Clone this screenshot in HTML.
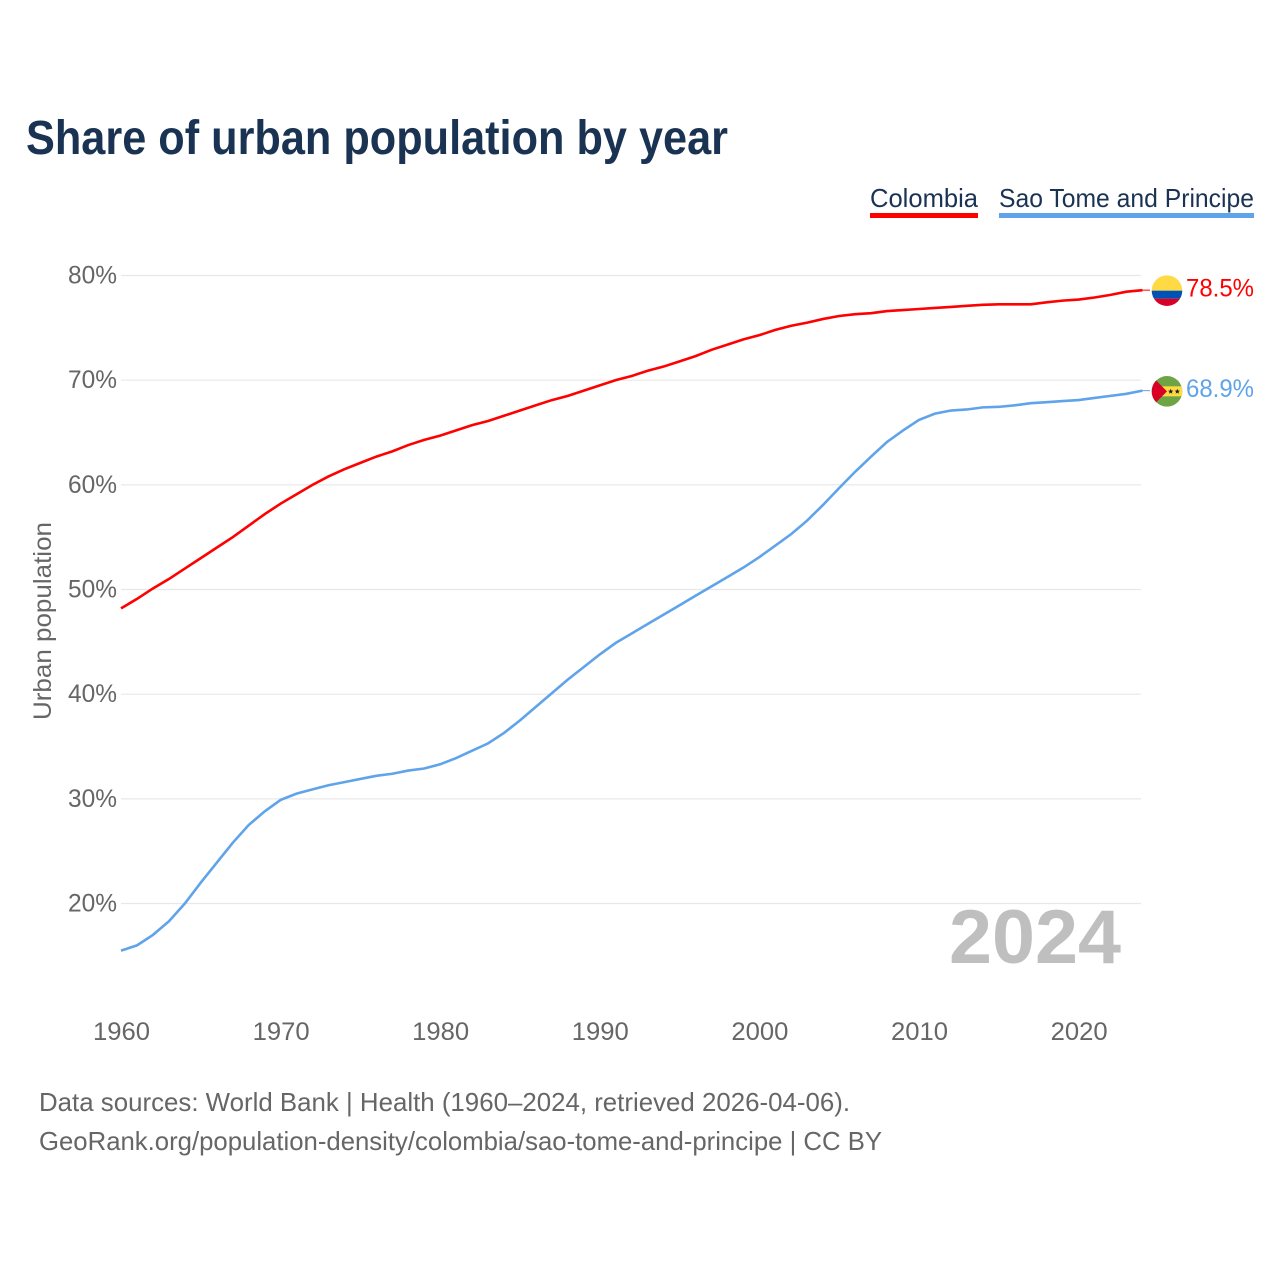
<!DOCTYPE html>
<html lang="en">
<head>
<meta charset="utf-8">
<title>Share of urban population by year</title>
<style>
html,body{margin:0;padding:0;background:#fff;}
svg{display:block;font-family:"Liberation Sans",sans-serif;}
</style>
</head>
<body>
<svg id="chart" xmlns="http://www.w3.org/2000/svg" width="1280" height="1280" viewBox="0 0 1280 1280">
  <defs>
    <clipPath id="flag-clip"><circle cx="0" cy="0" r="15.3"></circle></clipPath>
  </defs>
  <rect x="0" y="0" width="1280" height="1280" fill="#ffffff"></rect>
  <text x="26" y="154" font-size="48" font-weight="700" fill="#1a3353" textLength="702" lengthAdjust="spacingAndGlyphs">Share of urban population by year</text>

  <g>
    <text x="870" y="207" font-size="26" fill="#1a3353" textLength="108" lengthAdjust="spacingAndGlyphs">Colombia</text>
    <rect x="870" y="213" width="108" height="5" fill="#ff0000"></rect>
  </g>
  <g>
    <text x="999" y="207" font-size="26" fill="#1a3353" textLength="255" lengthAdjust="spacingAndGlyphs">Sao Tome and Principe</text>
    <rect x="999" y="213" width="255" height="5" fill="#5fa4ea"></rect>
  </g>

  <g id="grid"></g>
  <g id="y-ticks"></g>
  <g id="x-ticks"></g>
  <text transform="translate(51,720) rotate(-90)" x="0" y="0" font-size="25" fill="#666666" textLength="198" lengthAdjust="spacingAndGlyphs">Urban population</text>

  <text id="year-label" x="949" y="963" font-size="76" font-weight="700" fill="#bfbfbf" textLength="172" lengthAdjust="spacingAndGlyphs">2024</text>

  <g id="lines"></g>

  <g id="flag-colombia">
    <g clip-path="url(#flag-clip)">
      <rect x="-16" y="-16" width="32" height="16" fill="#ffda44"></rect>
      <rect x="-16" y="0" width="32" height="8" fill="#0052b4"></rect>
      <rect x="-16" y="8" width="32" height="8" fill="#d80027"></rect>
    </g>
  </g>
  <g id="flag-sao-tome">
    <g clip-path="url(#flag-clip)">
      <rect x="-16" y="-16" width="32" height="32" fill="#6da544"></rect>
      <rect x="-16" y="-5" width="32" height="10" fill="#ffda44"></rect>
      <polygon points="-11,-11 0,0 -11,11 -16,11 -16,-11" fill="#d80027"></polygon>
      <polygon points="3.7,-2.6 4.5,-0.7 6.4,-0.7 4.9,0.5 5.4,2.4 3.7,1.3 2,2.4 2.5,0.5 1,-0.7 2.9,-0.7" fill="#1f1f1f"></polygon>
      <polygon points="10.3,-2.6 11.1,-0.7 13,-0.7 11.5,0.5 12,2.4 10.3,1.3 8.6,2.4 9.1,0.5 7.6,-0.7 9.5,-0.7" fill="#1f1f1f"></polygon>
    </g>
  </g>
  <g id="end-labels"></g>

  <text x="39" y="1111" font-size="26" fill="#666666" textLength="811" lengthAdjust="spacingAndGlyphs">Data sources: World Bank | Health (1960–2024, retrieved 2026-04-06).</text>
  <text x="39" y="1150" font-size="26" fill="#666666" textLength="843" lengthAdjust="spacingAndGlyphs">GeoRank.org/population-density/colombia/sao-tome-and-principe | CC BY</text>
</svg>
<script>
const startYear = 1960;
const xTickYears = [1960, 1970, 1980, 1990, 2000, 2010, 2020];
const yTickValues = [20, 30, 40, 50, 60, 70, 80];
const colombiaValues = [48.2,49.1,50.1,51.0,52.0,53.0,54.0,55.0,56.1,57.2,58.2,59.1,60.0,60.8,61.5,62.1,62.7,63.2,63.8,64.3,64.7,65.2,65.7,66.1,66.6,67.1,67.6,68.1,68.5,69.0,69.5,70.0,70.4,70.9,71.3,71.8,72.3,72.9,73.4,73.9,74.3,74.8,75.2,75.5,75.85,76.13,76.3,76.4,76.6,76.7,76.8,76.9,77.0,77.1,77.2,77.25,77.25,77.25,77.44,77.6,77.7,77.9,78.15,78.45,78.6];
const saoTomeValues = [15.5,16.0,17.0,18.3,20.0,22.0,23.9,25.8,27.5,28.8,29.9,30.5,30.9,31.3,31.6,31.9,32.2,32.4,32.7,32.9,33.3,33.9,34.6,35.3,36.3,37.5,38.8,40.1,41.4,42.6,43.8,44.9,45.8,46.7,47.6,48.5,49.4,50.3,51.2,52.1,53.1,54.2,55.3,56.6,58.1,59.7,61.25,62.7,64.1,65.2,66.2,66.8,67.1,67.2,67.4,67.45,67.6,67.8,67.9,68.0,68.1,68.3,68.5,68.7,69.0];
const endLabelTexts = ['78.5%', '68.9%'];

const SVG_NS = 'http://www.w3.org/2000/svg';
function xScale(year) { return 121 + (year - 1960) * 15.96; }
function yScale(value) { return 275.5 + (80 - value) * 10.467; }
function make(tag, parent) {
  const node = document.createElementNS(SVG_NS, tag);
  document.getElementById(parent).appendChild(node);
  return node;
}

yTickValues.forEach(function (value) {
  const line = make('line', 'grid');
  
  
  line.setAttribute('x1', 121);
  line.setAttribute('x2', 1141);
  line.setAttribute('y1', yScale(value));
  line.setAttribute('y2', yScale(value));
  line.setAttribute('stroke', '#e8e8e8');
  line.setAttribute('stroke-width', 1.2);

  const label = make('text', 'y-ticks');
  
  
  label.setAttribute('x', 68);
  label.setAttribute('y', yScale(value) + 8);
  label.setAttribute('font-size', 25);
  label.setAttribute('fill', '#666666');
  label.setAttribute('textLength', 49);
  label.setAttribute('lengthAdjust', 'spacingAndGlyphs');
  label.textContent = value + '%';
});

xTickYears.forEach(function (year) {
  const label = make('text', 'x-ticks');
  
  
  label.setAttribute('x', xScale(year) - 28);
  label.setAttribute('y', 1040);
  label.setAttribute('font-size', 25);
  label.setAttribute('fill', '#666666');
  label.setAttribute('textLength', 57);
  label.setAttribute('lengthAdjust', 'spacingAndGlyphs');
  label.textContent = String(year);
});

function pointsFor(values) {
  return values.map(function (v, i) {
    return xScale(startYear + i).toFixed(2) + ',' + yScale(v).toFixed(2);
  }).join(' ');
}

const lastYear = startYear + colombiaValues.length - 1;
const colombiaLast = colombiaValues[colombiaValues.length - 1];
const saoTomeLast = saoTomeValues[saoTomeValues.length - 1];

const colombiaLine = make('polyline', 'lines');


colombiaLine.setAttribute('points', pointsFor(colombiaValues));
colombiaLine.setAttribute('fill', 'none');
colombiaLine.setAttribute('stroke', '#ff0000');
colombiaLine.setAttribute('stroke-width', 2.6);

const saoTomeLine = make('polyline', 'lines');


saoTomeLine.setAttribute('points', pointsFor(saoTomeValues));
saoTomeLine.setAttribute('fill', 'none');
saoTomeLine.setAttribute('stroke', '#5fa4ea');
saoTomeLine.setAttribute('stroke-width', 2.6);

const colombiaLeader = make('line', 'lines');


colombiaLeader.setAttribute('x1', xScale(lastYear));
colombiaLeader.setAttribute('x2', 1150);
colombiaLeader.setAttribute('y1', yScale(colombiaLast));
colombiaLeader.setAttribute('y2', yScale(colombiaLast));
colombiaLeader.setAttribute('stroke', '#ff0000');
colombiaLeader.setAttribute('stroke-width', 1);

const saoTomeLeader = make('line', 'lines');


saoTomeLeader.setAttribute('x1', xScale(lastYear));
saoTomeLeader.setAttribute('x2', 1150);
saoTomeLeader.setAttribute('y1', yScale(saoTomeLast));
saoTomeLeader.setAttribute('y2', yScale(saoTomeLast));
saoTomeLeader.setAttribute('stroke', '#5fa4ea');
saoTomeLeader.setAttribute('stroke-width', 1);

document.getElementById('flag-colombia').setAttribute('transform', 'translate(1167,' + (yScale(colombiaLast) + 0.5) + ')');
document.getElementById('flag-sao-tome').setAttribute('transform', 'translate(1167,' + (yScale(saoTomeLast) + 0.7) + ')');

const colombiaEnd = make('text', 'end-labels');


colombiaEnd.setAttribute('x', 1186);
colombiaEnd.setAttribute('y', yScale(colombiaLast) + 6.5);
colombiaEnd.setAttribute('font-size', 25);
colombiaEnd.setAttribute('fill', '#ff0000');
colombiaEnd.setAttribute('textLength', 68);
colombiaEnd.setAttribute('lengthAdjust', 'spacingAndGlyphs');
colombiaEnd.textContent = endLabelTexts[0];

const saoTomeEnd = make('text', 'end-labels');


saoTomeEnd.setAttribute('x', 1186);
saoTomeEnd.setAttribute('y', yScale(saoTomeLast) + 6.5);
saoTomeEnd.setAttribute('font-size', 25);
saoTomeEnd.setAttribute('fill', '#5fa4ea');
saoTomeEnd.setAttribute('textLength', 68);
saoTomeEnd.setAttribute('lengthAdjust', 'spacingAndGlyphs');
saoTomeEnd.textContent = endLabelTexts[1];
</script>
</body>
</html>
